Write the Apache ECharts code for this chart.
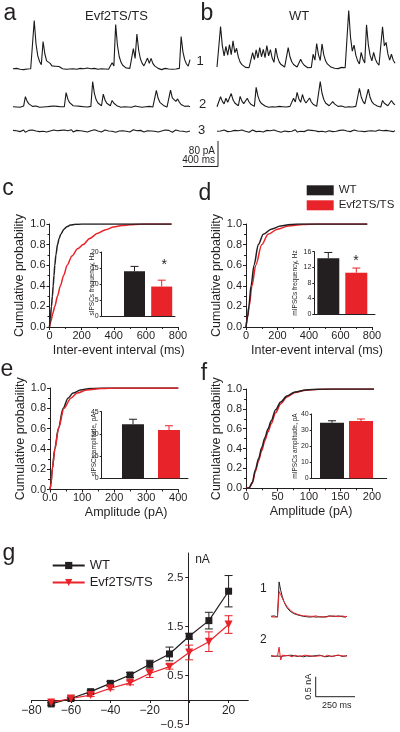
<!DOCTYPE html>
<html><head><meta charset="utf-8">
<script src="https://cdn.jsdelivr.net/npm/echarts@6.0.0/dist/echarts.min.js"></script>
<style>html,body{margin:0;padding:0;background:#fff}#c{width:400px;height:732px}</style>
</head><body><div id="c"></div><script>
// ---------------- DATA ----------------
// Panels a/b: example current traces (pA), one sample per 20 ms
const traceA1 = [1,-2,2,0,-1,2,-2,1,0,-2, 1,3,155,80,42,24,14,88,48,26, 30,18,10,16,9,14,8,4,1,3, -1,2,0,-2,1,3,-1,0,2,-2, 1,0,3,-1,1,-2,2,0,-1,2, 1,-2,0,2,-1,1,20,10,142,76, 40,22,12,6,3,0,2,-1,65,34, 112,60,32,18,10,5,35,18,34,18, 10,5,2,0,-2,1,2,-1,0,2, -1,1,0,-2,2,104,55,30,16,9, 30];
const traceA2 = [0,2,-1,1,-2,0,2,32,17,9, 5,1,-1,2,0,-2,1,-1,2,0, -2,1,0,2,-1,1,-2,0,2,0, 45,24,13,7,3,0,2,-1,1,-2, 0,2,-1,0,1,80,42,22,12,7, 3,40,21,11,6,3,20,11,6,2, 0,-2,1,0,2,-1,1,-2,0,2, -1,0,1,-2,2,0,-1,1,2,-1, 0,52,27,14,8,4,1,-1,2,53, 28,30,17,25,14,7,3,1,-1,2, 0];
const traceA3 = [2,-3,1,4,-2,0,3,-4,1,2, -1,3,-3,0,2,-2,4,-1,1,-3, 2,0,-2,3,-1,1,-4,2,0,3, -2,1,-1,4,-3,0,2,-2,1,3, -1,0,-3,2,1,-2,4,-1,0,2, -3,1,3,-2,0,1,-1,3,-4,2, 0,-2,1,3,-1,2,-3,0,4,-2, 1,-1,2,0,-3,3,1,-2,0,2, -1,4,-3,1,0,-2,3,-1,2,0, -4,1,3,-2,0,2,-1,1,-3,2, 0];
const traceB1 = [2,0,132,70,38,68,40,74,42,86, 48,62,34,18,10,4,1,-2,0,2, 48,26,57,31,64,35,59,32,71,38, 58,31,17,63,34,18,10,5,2,0, 64,35,19,10,5,2,-1,27,15,8, 3,0,-2,1,43,24,77,42,23,76, 41,22,12,6,2,-1,-2,0,-3,-1, 1,-2,0,2,183,98,53,72,40,22, 12,49,27,15,137,74,40,22,49,27, 15,8,4,131,70,81,44,24,43,24, 14];
const traceB2 = [0,2,32,17,9,27,14,8,42,22, 12,6,3,33,18,10,5,27,15,8, 4,1,62,34,18,10,5,2,0,-2, 1,0,2,-1,0,1,-2,0,2,-1, 0,1,-1,27,15,46,25,14,39,21, 12,6,28,15,8,4,1,0,80,43, 23,12,6,3,0,16,9,4,1,-1, 2,0,-2,1,0,2,-1,0,1,-2, 59,32,17,9,5,56,30,16,9,4, 2,0,-1,20,11,6,3,1,20,11, 6];
const traceB3 = [-1,2,0,-3,3,1,-2,4,-1,0, 2,-3,1,0,3,-2,-1,2,-4,1, 3,0,-2,1,-1,4,-3,0,2,-1, 1,-2,3,0,-1,2,-4,1,0,3, -2,1,-1,0,4,-3,2,-1,1,-2, 0,3,-1,2,-3,1,0,-2,4,-1, 2,-3,0,1,3,-2,1,-1,0,2, -4,3,-1,0,2,-2,1,3,-3,0, 1,-1,2,-2,4,0,-3,1,2,-1, 0,3,-2,1,-1,2,-3,0,1,-2, 1];

// Cumulative distributions [x, probability]
const cdfC_WT  = [[0,0],[5,0.08],[12,0.2],[18,0.3],[23,0.4],[28,0.5],[33,0.6],[40,0.7],[50,0.8],[60,0.86],[70,0.9],[90,0.95],[110,0.975],[130,0.99],[160,0.997],[200,1],[760,1]];
const cdfC_Evf = [[0,0],[10,0.06],[20,0.13],[33,0.2],[50,0.3],[68,0.4],[88,0.5],[110,0.6],[140,0.69],[175,0.76],[210,0.8],[250,0.86],[300,0.91],[350,0.945],[400,0.97],[450,0.985],[500,0.993],[560,0.998],[620,1],[760,1]];
const cdfD_WT  = [[0,0],[10,0.1],[18,0.2],[32,0.4],[51,0.6],[78,0.8],[110,0.9],[160,0.95],[220,0.98],[280,0.995],[330,1],[770,1]];
const cdfD_Evf = [[0,0],[11,0.1],[20,0.2],[38,0.4],[62,0.6],[100,0.8],[140,0.9],[200,0.95],[270,0.98],[360,0.995],[450,1],[770,1]];
const cdfE_WT  = [[0,0],[3,0.05],[7,0.2],[15,0.4],[26,0.6],[41,0.8],[56,0.9],[72,0.95],[95,0.98],[125,0.995],[170,1],[400,1]];
const cdfE_Evf = [[0,0],[3,0.05],[7,0.2],[15.5,0.4],[26.5,0.6],[43.6,0.8],[65,0.9],[85,0.95],[115,0.98],[160,0.995],[210,1],[400,1]];
const cdfF_WT  = [[0,0],[5,0.005],[10,0.06],[15,0.19],[20,0.3],[25,0.41],[30,0.51],[35,0.6],[40,0.68],[47,0.79],[55,0.87],[65,0.93],[78,0.97],[95,0.99],[115,0.998],[140,1],[205,1]];
const cdfF_Evf = [[0,0],[5,0.004],[10,0.05],[15,0.17],[20,0.28],[25,0.38],[30,0.48],[35,0.57],[40,0.65],[47,0.76],[55,0.85],[65,0.92],[78,0.965],[95,0.988],[115,0.997],[140,1],[205,1]];

// Inset bar charts (mean, s.e.m.)
const groups = ['WT', 'Evf2TS/TS'];
const sIPSCfreq = [14, 9.2],      sIPSCfreqErr = [1.5, 2.0];
const mIPSCfreq = [14.3, 10.6],   mIPSCfreqErr = [1.5, 1.2];
const sIPSCamp  = [36.5, 32.6],   sIPSCampErr  = [3.4, 2.9];
const mIPSCamp  = [34.6, 35.6],   mIPSCampErr  = [1.2, 1.3];

// Panel g: I-V relation (nA)
const voltages = [-70,-60,-50,-40,-30,-20,-10,0,10,20];
const ivWT     = [-0.08,0.03,0.17,0.34,0.51,0.73,0.94,1.30,1.62,2.22];
const ivWTErr  = [0.03,0.02,0.03,0.04,0.05,0.08,0.14,0.06,0.17,0.32];
const ivEvf    = [-0.05,0.03,0.10,0.24,0.35,0.54,0.68,0.97,1.19,1.54];
const ivEvfErr = [0.03,0.02,0.03,0.03,0.04,0.08,0.05,0.15,0.20,0.18];

// Panel g example currents (nA), one sample per 10 ms
const tailWT1  = [0.01,-0.01,0.02,0,-0.01, 0.87,0.66,0.5,0.38,0.29, 0.22,0.17,0.13,0.1,0.08, 0.06,0.05,0.04,0.03,0.02, 0.01,0.02,0,0.01,-0.01, 0.02,0,0.01,-0.01,0.01, 0,0.02,-0.01,0.01,0,-0.01, 0.02,0,0.01,-0.01,0.01, 0,0.02,-0.01,0,0.01,-0.01,0.01];
const tailEvf1 = [0,0.01,-0.01,0.01,0, 0.63,0.55,0.46,0.38,0.31, 0.25,0.2,0.16,0.13,0.1, 0.08,0.065,0.05,0.04,0.03, 0.02,0.01,0.02,0,0.01, -0.01,0.01,0,0.02,0, -0.01,0.01,0,0.02,-0.01,0, 0.01,-0.01,0.02,0,0.01, -0.01,0,0.01,0.02,-0.01,0,0.01];
const tailWT2  = [0,0.01,-0.01,0.02,0, 0.03,-0.01,0.01,0,-0.02, 0.01,0,0.02,-0.01,0.01, 0,-0.01,0.02,0,0.01, -0.02,0.01,0,0.01,-0.01, 0.02,0,-0.01,0.01,0, 0.02,-0.01,0,0.01,-0.02,0.01, 0,0.02,-0.01,0,0.01, -0.01,0.02,0,-0.01,0.01,0,0.01];
const tailEvf2 = [0.01,-0.01,0,0.01,-0.01, 0.22,-0.1,0.02,0,0.01, -0.01,0.01,0,-0.02,0.01, 0.02,0,-0.01,0.01,0, -0.01,0.02,0,0.01,-0.02, 0,0.01,-0.01,0.02,0, -0.01,0.01,0,-0.02,0.01,0.02, 0,-0.01,0.01,0,-0.01, 0.02,0,0.01,-0.01,0,0.02,0];

// ---------------- STYLE / LAYOUT ----------------
const FONT = '"Liberation Sans", Arial, Helvetica, sans-serif';
const INK = '#231f20';
const RED = '#e8232a';

const grids = [], xAxes = [], yAxes = [], series = [], graphics = [];
function addGrid(g) { grids.push(Object.assign({outerBoundsMode: 'none', containLabel: false}, g)); return grids.length - 1; }
const lineSt = {color: INK, width: 1};

function errRender(capHalf, capBottom, colorFn, width) {
  return function (params, api) {
    const x = api.value(0), lo = api.value(1), hi = api.value(2);
    const t = api.coord([x, hi]), b = api.coord([x, lo]);
    const st = {stroke: colorFn(params.dataIndex), lineWidth: width};
    const ch = [
      {type: 'line', shape: {x1: t[0], y1: t[1], x2: b[0], y2: b[1]}, style: st},
      {type: 'line', shape: {x1: t[0] - capHalf, y1: t[1], x2: t[0] + capHalf, y2: t[1]}, style: st}
    ];
    if (capBottom) ch.push({type: 'line', shape: {x1: b[0] - capHalf, y1: b[1], x2: b[0] + capHalf, y2: b[1]}, style: st});
    return {type: 'group', children: ch};
  };
}

// ----- Panel g (first so legend icons come from these series) -----
// axes crossing at (0 mV, 0 nA): placed with offsets inside the grid
const gG = addGrid({left: 31.5, top: 553, width: 216.8, height: 171.5});
xAxes.push({gridIndex: gG, type: 'value', min: -80, max: 30, interval: 20, offset: -24.5,
  axisLine: {show: true, onZero: false, lineStyle: lineSt},
  axisTick: {show: true, length: 3, lineStyle: lineSt}, splitLine: {show: false},
  axisLabel: {color: INK, fontSize: 12, fontFamily: FONT, margin: 5, showMaxLabel: false,
    formatter: v => v === 0 ? '' : String(v).replace('-', '\u2212')}});
yAxes.push({gridIndex: gG, type: 'value', min: -0.5, max: 3, interval: 1, offset: -156.8,
  axisLine: {show: true, onZero: false, lineStyle: lineSt},
  axisTick: {show: true, length: 3, lineStyle: lineSt}, splitLine: {show: false},
  axisLabel: {color: INK, fontSize: 11.5, fontFamily: FONT, margin: 5, showMaxLabel: false,
    formatter: v => v.toFixed(1).replace('-', '\u2212')}});
series.push({name: 'WT', type: 'line', xAxisIndex: gG, yAxisIndex: gG, z: 5,
  data: voltages.map((v, i) => [v, ivWT[i]]), symbol: 'rect', symbolSize: 7,
  lineStyle: {color: INK, width: 1.2}, itemStyle: {color: INK}});
series.push({name: 'Evf2TS/TS', type: 'line', xAxisIndex: gG, yAxisIndex: gG, z: 5,
  data: voltages.map((v, i) => [v, ivEvf[i]]), symbol: 'triangle', symbolSize: 8, symbolRotate: 180,
  lineStyle: {color: RED, width: 1.2}, itemStyle: {color: RED}});
series.push({type: 'custom', xAxisIndex: gG, yAxisIndex: gG, z: 4,
  data: voltages.map((v, i) => [v, ivWT[i] - ivWTErr[i], ivWT[i] + ivWTErr[i]]),
  renderItem: errRender(4, true, () => INK, 1)});
series.push({type: 'custom', xAxisIndex: gG, yAxisIndex: gG, z: 4,
  data: voltages.map((v, i) => [v, ivEvf[i] - ivEvfErr[i], ivEvf[i] + ivEvfErr[i]]),
  renderItem: errRender(4, true, () => RED, 1)});

// ----- trace grids -----
function addTrace(left, baseY, width, yPerPx, ymin, ymax, xmax) {
  const h = (ymax - ymin) / yPerPx;
  const gi = addGrid({left: left, top: baseY - ymax / yPerPx, width: width, height: h});
  xAxes.push({gridIndex: gi, type: 'value', min: 0, max: xmax, show: false});
  yAxes.push({gridIndex: gi, type: 'value', min: ymin, max: ymax, show: false});
  return gi;
}
function traceSeries(gi, values, color, w) {
  series.push({type: 'line', xAxisIndex: gi, yAxisIndex: gi, data: values.map((v, i) => [i, v]),
    symbol: 'none', silent: true, lineStyle: {color: color, width: w}});
}
const PA = 3.2; // pA per pixel
[[13, 69, 177, traceA1], [13, 106.7, 177, traceA2], [13, 131, 177, traceA3],
 [217, 67.7, 178, traceB1], [217, 106.7, 178, traceB2], [217, 131, 178, traceB3]].forEach(t => {
  const gi = addTrace(t[0], t[1], t[2], PA, -12, 195, t[3].length - 1);
  traceSeries(gi, t[3], '#1a1a1a', 1.1);
});
// g example traces: 40 px per nA
const gT1 = addTrace(271, 616.7, 76, 0.025, -0.3, 1.2, tailWT1.length - 1);
traceSeries(gT1, tailWT1, INK, 1); traceSeries(gT1, tailEvf1, RED, 1);
const gT2 = addTrace(271, 656, 76, 0.025, -0.3, 1.2, tailWT2.length - 1);
traceSeries(gT2, tailWT2, INK, 1); traceSeries(gT2, tailEvf2, RED, 1);

// ----- CDF panels -----
function addCdf(left, top, width, height, xmax, xint, xfmt, xname, shift, wt, evf, blackFirst) {
  const gi = addGrid({left: left, top: top, width: width, height: height});
  xAxes.push({gridIndex: gi, type: 'value', min: 0, max: xmax, interval: xint,
    axisLine: {show: true, onZero: false, lineStyle: lineSt},
    axisTick: {show: true, length: 3, lineStyle: lineSt},
    minorTick: {show: true, splitNumber: 2, length: 2, lineStyle: lineSt},
    splitLine: {show: false},
    axisLabel: {color: INK, fontSize: 11, fontFamily: FONT, margin: 3, formatter: xfmt},
    name: xname, nameLocation: 'middle', nameGap: 17,
    nameTextStyle: {color: INK, fontSize: 12.5, fontFamily: FONT, padding: [0, 0, 0, 2 * shift]}});
  yAxes.push({gridIndex: gi, type: 'value', min: 0, max: 1, interval: 0.2,
    axisLine: {show: true, onZero: false, lineStyle: lineSt},
    axisTick: {show: true, length: 3, lineStyle: lineSt},
    minorTick: {show: true, splitNumber: 2, length: 2, lineStyle: lineSt},
    splitLine: {show: false},
    axisLabel: {color: INK, fontSize: 11, fontFamily: FONT, margin: 4, formatter: v => v.toFixed(1)},
    name: 'Cumulative probability', nameLocation: 'middle', nameGap: 17,
    nameTextStyle: {color: INK, fontSize: 12.5, fontFamily: FONT}});
  const sW = {name: 'WT', type: 'line', xAxisIndex: gi, yAxisIndex: gi, data: wt, symbol: 'none', smooth: 0.3, smoothMonotone: 'x', silent: true, lineStyle: {color: INK, width: 1.5}, itemStyle: {color: INK}};
  const sE = {name: 'Evf2TS/TS', type: 'line', xAxisIndex: gi, yAxisIndex: gi, data: evf, symbol: 'none', smooth: 0.3, smoothMonotone: 'x', silent: true, lineStyle: {color: RED, width: 1.5}, itemStyle: {color: RED}};
  if (blackFirst) series.push(sW, sE); else series.push(sE, sW);
}
addCdf(49.5, 224, 128.5, 103, 800, 200, v => v, 'Inter-event interval (ms)', 5, cdfC_WT, cdfC_Evf, false);
addCdf(246, 224, 126, 103, 800, 200, v => v, 'Inter-event interval (ms)', 8, cdfD_WT, cdfD_Evf, false);
addCdf(50, 388, 128.3, 101.5, 400, 100, v => v === 0 ? '0.0' : v, 'Amplitude (pA)', 12, cdfE_WT, cdfE_Evf, true);
addCdf(246, 389, 126, 99.3, 200, 50, v => v, 'Amplitude (pA)', 2, cdfF_WT, cdfF_Evf, false);

// ----- inset bar charts -----
function addInset(left, top, width, height, ymax, yint, xmin, xmax, vals, errs, bw) {
  const gi = addGrid({left: left, top: top, width: width, height: height});
  xAxes.push({gridIndex: gi, type: 'value', min: xmin, max: xmax,
    axisLine: {show: true, onZero: false, lineStyle: lineSt}, axisTick: {show: false},
    axisLabel: {show: false}, splitLine: {show: false}});
  yAxes.push({gridIndex: gi, type: 'value', min: 0, max: ymax, interval: yint,
    axisLine: {show: true, onZero: false, lineStyle: lineSt},
    axisTick: {show: true, length: 2, lineStyle: lineSt}, splitLine: {show: false},
    axisLabel: {color: INK, fontSize: 7, fontFamily: FONT, margin: 3}});
  series.push({type: 'bar', xAxisIndex: gi, yAxisIndex: gi, barWidth: bw, z: 3, silent: true,
    data: groups.map((g, i) => ({name: g, value: [i, vals[i]], itemStyle: {color: i ? RED : INK}}))});
  series.push({type: 'custom', xAxisIndex: gi, yAxisIndex: gi, z: 2, silent: true,
    data: groups.map((g, i) => [i, vals[i], vals[i] + errs[i]]),
    renderItem: errRender(4, false, i => i ? RED : INK, 1)});
}
addInset(101.7, 252, 73.3, 64, 20, 5, -1.206, 1.489, sIPSCfreq, sIPSCfreqErr, 21);
addInset(314.3, 251.7, 60.7, 62.3, 16, 4, -0.5, 1.668, mIPSCfreq, mIPSCfreqErr, 22);
addInset(101.7, 411.7, 86.3, 66.6, 45, 15, -0.869, 1.528, sIPSCamp, sIPSCampErr, 22);
addInset(311.7, 414, 75, 64.3, 40, 10, -0.7, 1.886, mIPSCamp, mIPSCampErr, 24);

// ----- annotations -----
function txt(x, y, s, size, align, rot) {
  graphics.push({type: 'text', x: x, y: y, rotation: rot || 0, silent: true,
    style: {text: s, fill: INK, font: size + 'px ' + FONT, align: align || 'center', verticalAlign: 'middle'}});
}
function seg(x1, y1, x2, y2) {
  graphics.push({type: 'line', silent: true, shape: {x1: x1, y1: y1, x2: x2, y2: y2}, style: {stroke: INK, lineWidth: 1}});
}
[['a', 10, 14], ['b', 207, 14], ['c', 8, 189], ['d', 205, 194], ['e', 7, 370], ['f', 204, 374], ['g', 9, 554]]
  .forEach(l => txt(l[1], l[2], l[0], 23));
txt(116.5, 16, 'Evf2TS/TS', 13);
txt(299, 16, 'WT', 13);
txt(200, 61, '1', 13); txt(202.7, 104, '2', 13); txt(201.7, 130.5, '3', 13);
seg(218, 141, 218, 166.5); seg(183, 166.5, 218, 166.5);
txt(215, 151, '80 pA', 10, 'right'); txt(215, 160, '400 ms', 10, 'right');
txt(164.3, 265, '*', 14); txt(356, 261, '*', 14);
txt(92, 284, 'sIPSCs frequency, Hz', 6.5, 'center', Math.PI / 2);
txt(295, 283, 'mIPSCs frequency, Hz', 6.5, 'center', Math.PI / 2);
txt(94, 445, 'sIPSCs amplitude, pA', 6.5, 'center', Math.PI / 2);
txt(295, 446, 'mIPSCs amplitude, pA', 6.5, 'center', Math.PI / 2);
txt(202.5, 560, 'nA', 12);
txt(263.3, 588.3, '1', 12); txt(263.3, 639.3, '2', 12);
seg(315.7, 676.7, 315.7, 696.7); seg(315.7, 696.7, 355, 696.7);
txt(308.3, 686.7, '0.5 nA', 9, 'center', Math.PI / 2);
txt(336.7, 706, '250 ms', 9);

const chart = echarts.init(document.getElementById('c'), null, {renderer: 'canvas', width: 400, height: 732});
chart.setOption({
  animation: false,
  backgroundColor: '#fff',
  textStyle: {fontFamily: FONT, color: INK},
  grid: grids, xAxis: xAxes, yAxis: yAxes, series: series,
  legend: [
    {orient: 'vertical', left: 306.7, top: 184.3, itemWidth: 27, itemHeight: 10, itemGap: 3, padding: 0,
     selectedMode: false, textStyle: {fontSize: 11.5, color: INK, fontFamily: FONT},
     data: [{name: 'WT', icon: 'rect'}, {name: 'Evf2TS/TS', icon: 'rect'}]},
    {orient: 'vertical', left: 51.7, top: 559, itemWidth: 32, itemHeight: 9, itemGap: 4, padding: 0,
     selectedMode: false, textStyle: {fontSize: 13, color: INK, fontFamily: FONT},
     data: ['WT', 'Evf2TS/TS']}
  ],
  graphic: graphics
});
</script></body></html>
